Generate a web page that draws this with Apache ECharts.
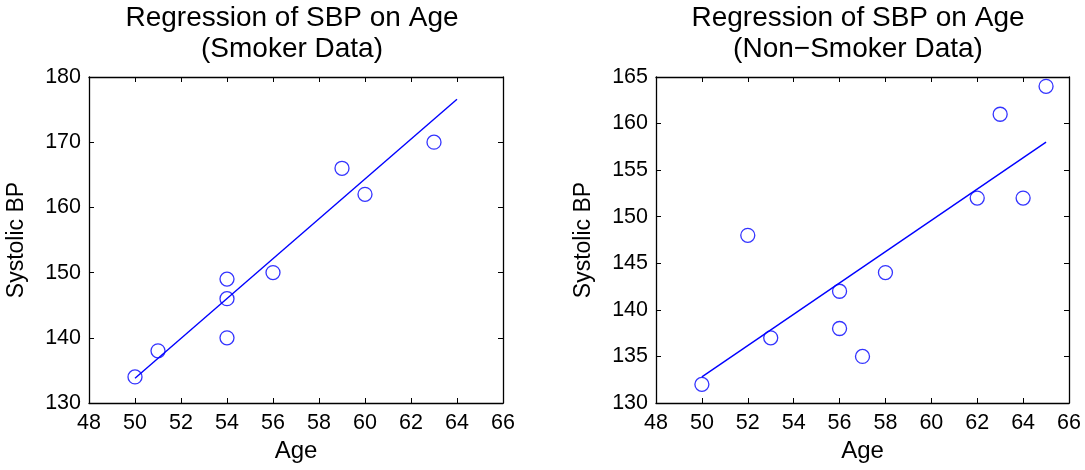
<!DOCTYPE html>
<html>
<head>
<meta charset="utf-8">
<style>
  html, body { margin:0; padding:0; background:#fff; }
  #chart { width:1085px; height:470px; }
</style>
<script src="https://cdn.jsdelivr.net/npm/echarts@6/dist/echarts.min.js"></script>
</head>
<body>
<div id="chart"></div>
<script>
// Smoker sample
var smokerAge = [50, 51, 54, 54, 54, 56, 59, 60, 63];
var smokerSbp = [134, 138, 140, 146, 149, 150, 166, 162, 170];
var smokerFitAge = [50, 64];
var smokerFitSbp = [133.8, 176.6];

// Non-smoker sample
var nonAge = [50, 52, 53, 56, 56, 57, 58, 62, 63, 64, 65];
var nonSbp = [132, 148, 137, 142, 138, 135, 144, 152, 161, 152, 164];
var nonFitAge = [50, 65];
var nonFitSbp = [132.8, 158.0];

var titles = ['Regression of SBP on Age\n(Smoker Data)', 'Regression of SBP on Age\n(Non\u2212Smoker Data)'];
var ageTicks = {min:48, max:66, interval:2};
var smokerTicks = {min:130, max:180, interval:10};
var nonTicks = {min:130, max:165, interval:5};

(function(){
  var FONT = "'Liberation Sans', Arial, Helvetica, sans-serif";
  var BLUE = '#0000ff';
  var chart = echarts.init(document.getElementById('chart'), null, {renderer:'canvas'});

  function pairs(xs, ys){ return xs.map(function(x, i){ return [x, ys[i]]; }); }

  var grids = [
    {left:89, right:582, top:77, bottom:67},
    {left:656, right:16, top:77, bottom:67}
  ];

  function xAx(gi, pos){
    var main = pos === 'bottom';
    return {
      type:'value', gridIndex:gi, position:pos,
      min:ageTicks.min, max:ageTicks.max, interval:ageTicks.interval,
      name: main ? 'Age' : '', nameLocation:'middle', nameGap:35,
      nameTextStyle:{fontFamily:FONT, fontSize:24, color:'#000'},
      axisLine:{show:true, onZero:false, lineStyle:{color:'#000', width:1.3}},
      axisTick:{show:true, inside:true, length:5, lineStyle:{color:'#000'}},
      axisLabel:{show:main, fontFamily:FONT, fontSize:21.5, color:'#000', margin:9},
      splitLine:{show:false}
    };
  }
  function yAx(gi, pos, t){
    var main = pos === 'left';
    return {
      type:'value', gridIndex:gi, position:pos,
      min:t.min, max:t.max, interval:t.interval,
      name: main ? 'Systolic BP' : '', nameLocation:'middle', nameGap:61,
      nameTextStyle:{fontFamily:FONT, fontSize:23, color:'#000'},
      axisLine:{show:true, onZero:false, lineStyle:{color:'#000', width:1.3}},
      axisTick:{show:true, inside:true, length:5, lineStyle:{color:'#000'}},
      axisLabel:{show:main, fontFamily:FONT, fontSize:21.5, color:'#000', margin:8},
      splitLine:{show:false}
    };
  }

  function scatter(xi, yi, xs, ys){
    return {
      type:'scatter', xAxisIndex:xi, yAxisIndex:yi, data:pairs(xs, ys),
      symbol:'circle', symbolSize:14,
      itemStyle:{color:'transparent', borderColor:BLUE, borderWidth:1.3},
      silent:true
    };
  }
  function fit(xi, yi, xs, ys){
    return {
      type:'line', xAxisIndex:xi, yAxisIndex:yi, data:pairs(xs, ys),
      symbol:'none', lineStyle:{color:BLUE, width:1.4}, silent:true
    };
  }

  var titleStyle = {fontFamily:FONT, fontSize:28, fontWeight:'normal', color:'#000', lineHeight:31};

  chart.setOption({
    backgroundColor:'#fff',
    animation:false,
    title:[
      {text:titles[0], left:292, top:3, padding:0, textAlign:'center', textStyle:titleStyle},
      {text:titles[1], left:858, top:3, padding:0, textAlign:'center', textStyle:titleStyle}
    ],
    grid:grids,
    xAxis:[xAx(0,'bottom'), xAx(0,'top'), xAx(1,'bottom'), xAx(1,'top')],
    yAxis:[yAx(0,'left',smokerTicks), yAx(0,'right',smokerTicks), yAx(1,'left',nonTicks), yAx(1,'right',nonTicks)],
    series:[
      fit(0, 0, smokerFitAge, smokerFitSbp),
      scatter(0, 0, smokerAge, smokerSbp),
      fit(2, 2, nonFitAge, nonFitSbp),
      scatter(2, 2, nonAge, nonSbp)
    ]
  });

  window.addEventListener('resize', function(){ chart.resize(); });
})();
</script>
</body>
</html>
